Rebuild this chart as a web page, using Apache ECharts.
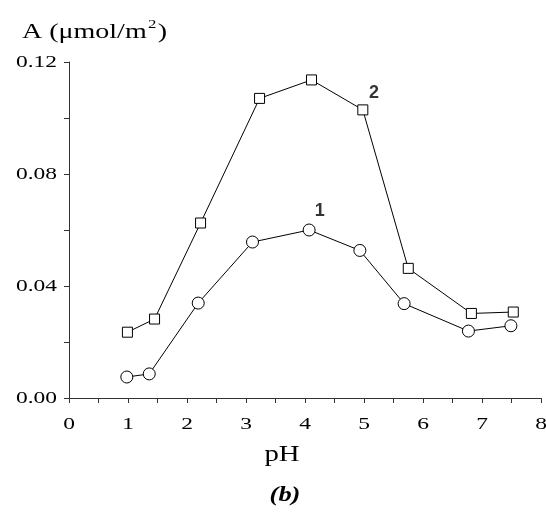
<!DOCTYPE html>
<html><head><meta charset="utf-8">
<script src="https://cdn.jsdelivr.net/npm/echarts@6/dist/echarts.min.js"></script>
<style>html,body{margin:0;padding:0;background:#fff}#c{width:546px;height:529px}</style>
</head><body><div id="c"></div>
<script>
var pH1 = [0.98, 1.36, 2.19, 3.11, 4.07, 4.93, 5.68, 6.77, 7.49];
var A1 = [0.0075, 0.0086, 0.0339, 0.0557, 0.0600, 0.0527, 0.0337, 0.0239, 0.0258];
var pH2 = [0.99, 1.45, 2.23, 3.23, 4.11, 4.98, 5.75, 6.82, 7.53];
var A2 = [0.0235, 0.0282, 0.0625, 0.1070, 0.1136, 0.1029, 0.0463, 0.0302, 0.0307];
var curveLabels = [{name: '1', pos: [4.25, 0.0666]}, {name: '2', pos: [5.17, 0.1089]}];
var xTicks = [0, 1, 2, 3, 4, 5, 6, 7, 8];
var yTicks = [0.00, 0.04, 0.08, 0.12];

function zip(xs, ys){ return xs.map(function(x,i){ return [x, ys[i]]; }); }
var serif = 'Liberation Serif';
var SX = 1.38;
var chart = echarts.init(document.getElementById('c'));
chart.setOption({
  animation: false,
  backgroundColor: '#fff',
  grid: {left: 69, right: 5, top: 62, bottom: 131, containLabel: false},
  xAxis: {
    type: 'value', min: 0, max: 8, interval: 0.5,
    axisLine: {lineStyle: {color: '#333', width: 1}},
    axisTick: {show: true, length: 5, lineStyle: {color: '#333'}},
    axisLabel: {show: false},
    splitLine: {show: false}
  },
  yAxis: {
    type: 'value', min: 0, max: 0.12, interval: 0.02,
    axisLine: {show: true, lineStyle: {color: '#333', width: 1}},
    axisTick: {show: true, length: 5, lineStyle: {color: '#333'}},
    axisLabel: {show: false},
    splitLine: {show: false}
  },
  series: [
    {type: 'line', data: zip(pH1, A1), symbol: 'circle', symbolSize: 12,
      itemStyle: {color: '#fff', borderColor: '#000', borderWidth: 1},
      lineStyle: {color: '#000', width: 1}, z: 3},
    {type: 'line', data: zip(pH2, A2), symbol: 'rect', symbolSize: 10,
      itemStyle: {color: '#fff', borderColor: '#000', borderWidth: 1},
      lineStyle: {color: '#000', width: 1}, z: 3},
    {type: 'scatter', symbolSize: 0, silent: true,
      data: curveLabels.map(function(d){ return {name: d.name, value: d.pos}; }),
      label: {show: true, position: 'inside', formatter: '{b}',
        fontFamily: 'Liberation Sans', fontSize: 18, fontWeight: 'bold', color: '#000'}}
  ]
});

var g = [];
xTicks.forEach(function(v){
  var p = chart.convertToPixel({gridIndex: 0}, [v, 0]);
  g.push({type: 'text', x: p[0], y: p[1] + 27, scaleX: SX, silent: true,
    style: {text: String(v), x: 0, y: 0, align: 'center', verticalAlign: 'middle',
      fontFamily: serif, fontSize: 17, fill: '#000'}});
});
yTicks.forEach(function(v){
  var p = chart.convertToPixel({gridIndex: 0}, [0, v]);
  g.push({type: 'text', x: p[0] - 12, y: p[1] + 1, scaleX: SX, silent: true,
    style: {text: v.toFixed(2), x: 0, y: 0, align: 'right', verticalAlign: 'middle',
      fontFamily: serif, fontSize: 17, fill: '#000'}});
});
g.push({type: 'text', x: 282, y: 455, scaleX: 1.2, silent: true,
  style: {text: 'pH', x: 0, y: 0, align: 'center', verticalAlign: 'middle',
    fontFamily: serif, fontSize: 24, fill: '#000'}});
g.push({type: 'text', x: 285, y: 495, scaleX: 1.2, silent: true,
  style: {text: '(b)', x: 0, y: 0, align: 'center', verticalAlign: 'middle',
    fontFamily: serif, fontSize: 22, fontWeight: 'bold', fontStyle: 'italic', fill: '#000'}});
g.push({type: 'text', x: 22, y: 31, scaleX: 1.4, silent: true,
  style: {text: '{n|A (μmol/m}{s|2}{n|)}', x: 0, y: 0, align: 'left', verticalAlign: 'middle',
    rich: {
      n: {fontFamily: serif, fontSize: 20, fill: '#000', verticalAlign: 'bottom'},
      s: {fontFamily: serif, fontSize: 12, fill: '#000', verticalAlign: 'top', padding: [0, 1, 12, 1]}
    }}});
chart.setOption({graphic: g});
</script></body></html>
